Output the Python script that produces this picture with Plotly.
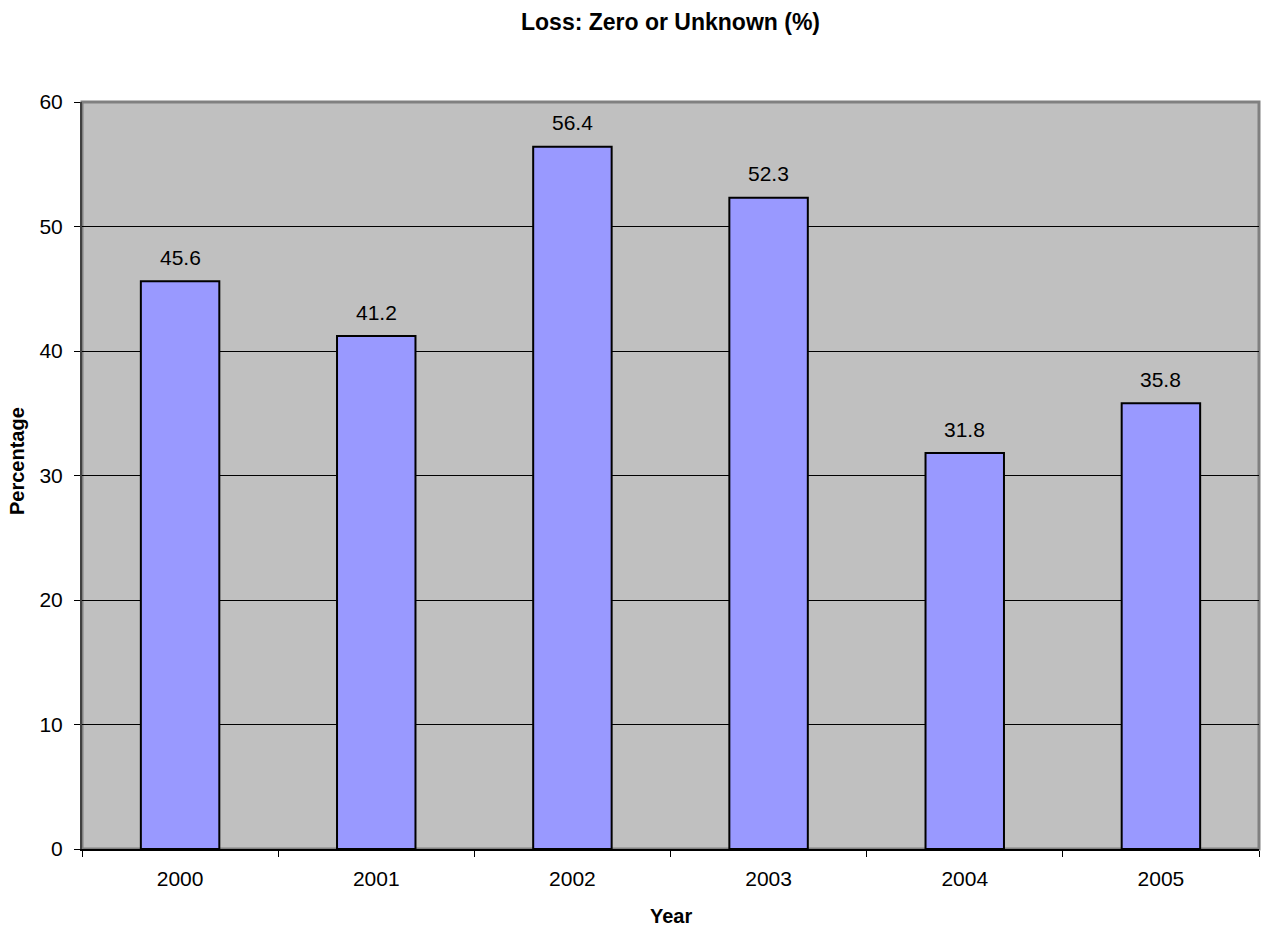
import plotly.graph_objects as go

years = ["2000", "2001", "2002", "2003", "2004", "2005"]
values = [45.6, 41.2, 56.4, 52.3, 31.8, 35.8]
y_ticks = [0, 10, 20, 30, 40, 50, 60]

FONT = "Liberation Sans, Arial"
W, H = 1262, 926
L, R, T, B = 82, 3, 102, 77
PW, PH = W - L - R, H - T - B

fig = go.Figure()
fig.add_trace(go.Bar(
    x=years, y=values,
    marker=dict(color="#9999FF", line=dict(color="black", width=2)),
    width=0.4,
    hoverinfo="x+y",
))

# data labels above bars (category index positions)
for i, v in enumerate(values):
    fig.add_annotation(x=i, y=v, xref="x", yref="y", text=f"{v:.1f}",
                       showarrow=False, yanchor="middle", yshift=24,
                       font=dict(family=FONT, size=21, color="black"))

# axis titles
fig.add_annotation(x=0.5, y=(849 - 916) / PH, xref="paper", yref="paper",
                   text="<b>Year</b>", showarrow=False, xanchor="center",
                   yanchor="middle", font=dict(family=FONT, size=20, color="black"))
fig.add_annotation(x=(17 - L) / PW, y=(849 - 461) / PH, xref="paper", yref="paper",
                   text="<b>Percentage</b>", showarrow=False, textangle=-90,
                   xanchor="center", yanchor="middle",
                   font=dict(family=FONT, size=20, color="black"))

fig.update_layout(
    width=W, height=H,
    margin=dict(l=L, r=R, t=T, b=B),
    paper_bgcolor="white",
    plot_bgcolor="#C0C0C0",
    showlegend=False,
    font=dict(family=FONT, size=21, color="black"),
    title=dict(text="<b>Loss: Zero or Unknown (%)</b>", x=0.5, xanchor="center",
               xref="paper",
               y=1 - 22 / H, yanchor="middle", font=dict(size=23)),
    xaxis=dict(
        type="category",
        categoryorder="array", categoryarray=years,
        range=[-0.5, len(years) - 0.5],
        tickson="boundaries",
        ticks="outside", ticklen=6, tickcolor="black", tickwidth=1,
        ticklabelstandoff=10,
        tickangle=0,
        showline=True, linecolor="black", linewidth=2,
        showgrid=False,
        tickfont=dict(size=21),
    ),
    yaxis=dict(
        range=[0, 60],
        tickvals=y_ticks,
        ticks="outside", ticklen=6, tickcolor="black", tickwidth=1,
        ticklabelstandoff=7,
        showline=True, linecolor="#404040", linewidth=2,
        showgrid=True, gridcolor="black", gridwidth=1,
        zeroline=False,
        tickfont=dict(size=21),
    ),
    bargap=0.6,
)

fig.add_shape(type="rect", xref="paper", yref="paper", x0=0, y0=0, x1=1, y1=1,
              line=dict(color="#808080", width=3), layer="below")

fig.write_html("out.html")
